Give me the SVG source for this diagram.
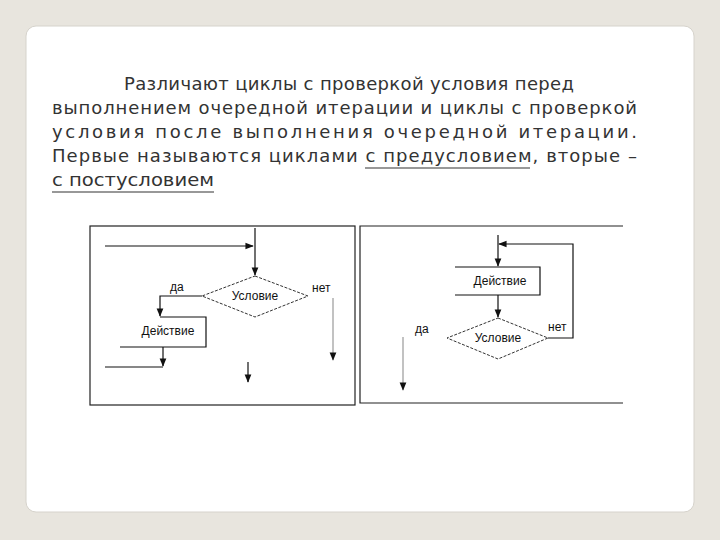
<svg xmlns="http://www.w3.org/2000/svg" width="720" height="540" viewBox="0 0 720 540">
<style>
.t{font-family:"DejaVu Sans","Liberation Sans",sans-serif;font-size:18px;fill:#333}
.s{font-family:"Liberation Sans",Arial,sans-serif;font-size:12px;fill:#111}
.l{stroke:#111;stroke-width:1.2;fill:none}
.d{stroke:#333;stroke-width:1;fill:none;stroke-dasharray:3 1.5}
</style>
<defs><marker id="a" viewBox="0 0 10 10" refX="9" refY="5" markerWidth="7" markerHeight="7" orient="auto"><path d="M0,1 L10,5 L0,9z" fill="#111"/></marker></defs>
<rect width="720" height="540" fill="#e8e5de"/>
<rect x="26" y="26" width="668" height="486" rx="10" fill="#fff" stroke="#d6d3cc"/>
<g id="text">
<text class="t" x="124" y="90" textLength="450" lengthAdjust="spacing">Различают циклы с проверкой условия перед</text>
<text class="t" x="52" y="114" textLength="585" lengthAdjust="spacing">выполнением очередной итерации и циклы с проверкой</text>
<text class="t" x="52" y="138" textLength="585" lengthAdjust="spacing">условия после выполнения очередной итерации.</text>
<text class="t" x="52" y="162" textLength="585" lengthAdjust="spacing">Первые называются циклами с предусловием, вторые –</text>
<text class="t" x="52" y="186" textLength="162" lengthAdjust="spacingAndGlyphs">с постусловием</text>
<line x1="365" y1="168" x2="530" y2="168" stroke="#333" stroke-width="1.2"/>
<line x1="52" y1="192" x2="214" y2="192" stroke="#333" stroke-width="1.2"/>
</g>
<g id="frames">
<rect x="90" y="226" width="265" height="179" fill="none" stroke="#222" stroke-width="1.2"/>
<path d="M623,226 H360 V403 H623" fill="none" stroke="#222" stroke-width="1.2"/>
</g>
<g id="cond1"><polygon class="d" points="255,276 308,296 255,317 202,296"/><text class="s" x="255" y="300" text-anchor="middle">Условие</text></g>
<g id="act1"><path class="l" d="M160,317 H206 V347 H120"/><text class="s" x="168" y="335" text-anchor="middle">Действие</text></g>
<g id="act2"><path class="l" d="M455,267 H540 V295 H455"/><text class="s" x="500" y="285" text-anchor="middle">Действие</text></g>
<g id="cond2"><polygon class="d" points="498,318 548,338 498,359 447,338"/><text class="s" x="498" y="342" text-anchor="middle">Условие</text></g>
<g id="connectors">
<path class="l" d="M105,246 H253" marker-end="url(#a)"/>
<path class="l" d="M255,228 V275" marker-end="url(#a)"/>
<path class="l" d="M202,296 H160 V316" marker-end="url(#a)"/>
<path class="l" d="M163,347 V366" marker-end="url(#a)"/>
<path class="l" d="M105,367 H163"/>
<path class="l" d="M248,362 V382" marker-end="url(#a)"/>
<path d="M333,298 V360" stroke="#999" stroke-width="1.2" marker-end="url(#a)"/>
<path class="l" d="M498,235 V266" marker-end="url(#a)"/>
<path class="l" d="M548,338 H573 V244 H499" marker-end="url(#a)"/>
<path class="l" d="M498,295 V317" marker-end="url(#a)"/>
<path d="M403,337 V390" stroke="#999" stroke-width="1.2" marker-end="url(#a)"/>
<text class="s" x="170" y="291">да</text>
<text class="s" x="312" y="292">нет</text>
<text class="s" x="415" y="333">да</text>
<text class="s" x="548" y="331">нет</text>
</g>
</svg>
